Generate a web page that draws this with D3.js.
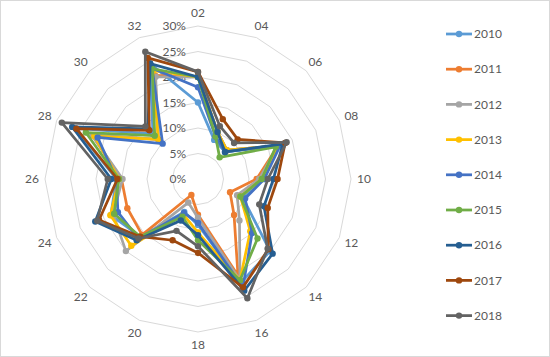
<!DOCTYPE html>
<html>
<head>
<meta charset="utf-8">
<script src="https://cdn.jsdelivr.net/npm/d3@7"></script>
<style>
  body { margin: 0; background: #fff; }
  text { font-family: Lato, "Liberation Sans", sans-serif; fill: #595959; }
</style>
</head>
<body>
<div id="chart"></div>
<script>
// categories around the radar, clockwise from the top
var categories = ["02", "04", "06", "08", "10", "12", "14", "16", "18", "20", "22", "24", "26", "28", "30", "32"];
var years = ["2010", "2011", "2012", "2013", "2014", "2015", "2016", "2017", "2018"];
var radialTicks = [0, 5, 10, 15, 20, 25, 30];

// values in percent, one array per year, same order as categories
var v2010 = [15, 8.3, 7.5, 17, 13, 9.5, 20, 22, 9, 7, 16, 18.5, 16, 26, 12.5, 24.5];
var v2011 = [20, 10, 8, 17, 11.5, 6.8, 10, 20.5, 7, 3.4, 15.5, 15, 15, 22.5, 11, 22];
var v2012 = [20, 10, 8, 17, 12, 8.3, 11.5, 21.5, 7.6, 5, 20, 18, 14.8, 22.5, 11, 21.7];
var v2013 = [20, 10, 8, 17, 12.5, 9, 14.5, 21.5, 10.5, 7.5, 18.5, 18.6, 15.5, 22, 11, 23];
var v2014 = [18, 9, 7.5, 17.5, 13, 10, 15, 23, 8.6, 7.2, 16.5, 17, 16, 21.3, 9.8, 23.5];
var v2015 = [20, 9, 6, 16.5, 12.5, 9, 16.5, 21.5, 12, 8, 16, 17.8, 15.5, 23.8, 12, 23.4];
var v2016 = [20, 10, 7.5, 18, 14.8, 14, 20.7, 23.7, 11, 8.8, 17, 21.8, 17, 26.7, 13.9, 24.5];
var v2017 = [21, 12.7, 11, 18.5, 15.6, 14.8, 19.5, 23, 14.5, 13, 16, 21, 15.8, 25.8, 13.5, 25.7];
var v2018 = [21, 11.2, 10, 18.8, 13.7, 13, 19.3, 25.3, 13.2, 11, 16.5, 21.4, 17.7, 28.9, 14.6, 27];
var allValues = [v2010, v2011, v2012, v2013, v2014, v2015, v2016, v2017, v2018];

var colors = ["#5B9BD5", "#ED7D31", "#A5A5A5", "#FFC000", "#4472C4", "#70AD47", "#255E91", "#9E480E", "#636363"];

var width = 550, height = 357;
var cx = 198, cy = 179;

var svg = d3.select("#chart").append("svg")
  .attr("width", width)
  .attr("height", height);

// outer frame
svg.append("rect")
  .attr("x", 0.5).attr("y", 0.5)
  .attr("width", width - 1).attr("height", height - 1)
  .attr("fill", "#fff")
  .attr("stroke", "#D9D9D9");

var g = svg.append("g")
  .attr("transform", "translate(" + cx + "," + cy + ")");

var r = d3.scaleLinear().domain([0, 30]).range([0, 153]);
var angle = d3.scaleLinear().domain([0, categories.length]).range([0, 2 * Math.PI]);

// grid rings
var ring = d3.lineRadial()
  .angle(function(d, i) { return angle(i); })
  .radius(function(d) { return r(d); })
  .curve(d3.curveLinearClosed);

g.selectAll(".ring")
  .data(radialTicks.slice(1))
  .enter().append("path")
    .attr("class", "ring")
    .attr("d", function(t) { return ring(categories.map(function() { return t; })); })
    .attr("fill", "none")
    .attr("stroke", "#D9D9D9")
    .attr("stroke-width", 1);

// radial tick labels
g.selectAll(".tick-label")
  .data(radialTicks)
  .enter().append("text")
    .attr("class", "tick-label")
    .attr("x", -12)
    .attr("y", function(t) { return -r(t); })
    .attr("dy", "0.35em")
    .attr("text-anchor", "end")
    .attr("font-size", "12px")
    .text(function(t) { return t + "%"; });

// category labels
g.selectAll(".cat-label")
  .data(categories)
  .enter().append("text")
    .attr("class", "cat-label")
    .attr("x", function(d, i) { return 166 * Math.sin(angle(i)); })
    .attr("y", function(d, i) { return -166 * Math.cos(angle(i)); })
    .attr("dy", "0.35em")
    .attr("text-anchor", "middle")
    .attr("font-size", "12px")
    .text(function(d) { return d; });

// series lines
var line = d3.lineRadial()
  .angle(function(d, i) { return angle(i); })
  .radius(function(d) { return r(d); })
  .curve(d3.curveLinearClosed);

var series = g.selectAll(".series")
  .data(allValues)
  .enter().append("g")
    .attr("class", "series");

series.append("path")
  .attr("d", function(d) { return line(d); })
  .attr("fill", "none")
  .attr("stroke", function(d, i) { return colors[i]; })
  .attr("stroke-width", 2.75)
  .attr("stroke-linejoin", "round");

series.each(function(vals, si) {
  d3.select(this).selectAll("circle")
    .data(vals)
    .enter().append("circle")
      .attr("cx", function(d, i) { return r(d) * Math.sin(angle(i)); })
      .attr("cy", function(d, i) { return -r(d) * Math.cos(angle(i)); })
      .attr("r", 3.2)
      .attr("fill", colors[si]);
});

// legend
var legend = svg.append("g")
  .attr("transform", "translate(446,34)");

var items = legend.selectAll(".item")
  .data(years)
  .enter().append("g")
    .attr("class", "item")
    .attr("transform", function(d, i) { return "translate(0," + (i * 35.2) + ")"; });

items.append("line")
  .attr("x1", 0).attr("x2", 26)
  .attr("stroke", function(d, i) { return colors[i]; })
  .attr("stroke-width", 2.75);

items.append("circle")
  .attr("cx", 13)
  .attr("r", 3.2)
  .attr("fill", function(d, i) { return colors[i]; });

items.append("text")
  .attr("x", 28)
  .attr("dy", "0.35em")
  .attr("font-size", "12px")
  .text(function(d) { return d; });
</script>
</body>
</html>
